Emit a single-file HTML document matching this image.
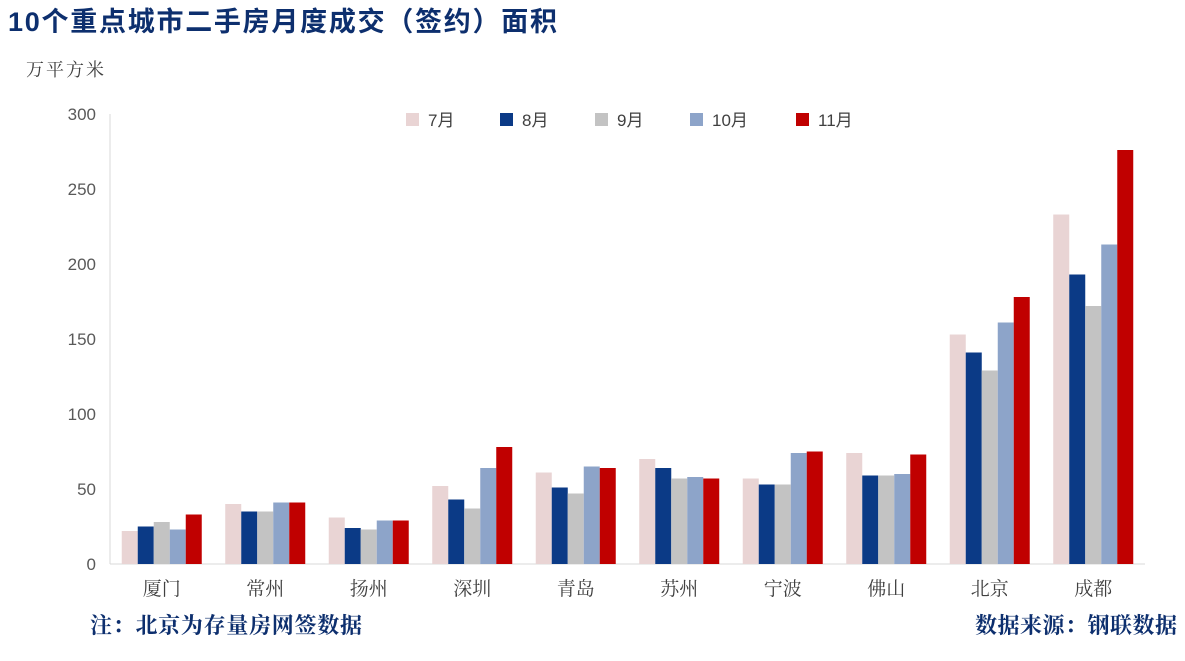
<!DOCTYPE html>
<html><head><meta charset="utf-8"><style>
body{margin:0;background:#fff;width:1185px;height:656px;overflow:hidden;font-family:"Liberation Sans","Noto Sans CJK SC",sans-serif;}
</style></head><body>
<svg width="1185" height="656" id="c" xmlns="http://www.w3.org/2000/svg">
<text x="8" y="31" font-size="27" font-weight="bold" fill="#0d2f6e" textLength="549" lengthAdjust="spacing" font-family="'Liberation Sans','Noto Sans CJK SC',sans-serif">10个重点城市二手房月度成交（签约）面积</text>
<text x="26" y="76" font-size="18" fill="#404040" textLength="78" lengthAdjust="spacing" font-family="'Noto Serif CJK SC',serif">万平方米</text>
<text x="90" y="633" font-size="22" font-weight="bold" fill="#0d2f6e" textLength="272" lengthAdjust="spacing" font-family="'Noto Serif CJK SC',serif">注：北京为存量房网签数据</text>
<text x="975" y="633" font-size="22" font-weight="bold" fill="#0d2f6e" textLength="202" lengthAdjust="spacing" font-family="'Noto Serif CJK SC',serif">数据来源：钢联数据</text>
<g id="g"></g>
</svg>
<script>
const categories=["厦门","常州","扬州","深圳","青岛","苏州","宁波","佛山","北京","成都"];
const seriesNames=["7月","8月","9月","10月","11月"];
const s7=[22,40,31,52,61,70,57,74,153,233];
const s8=[25,35,24,43,51,64,53,59,141,193];
const s9=[28,35,23,37,47,57,53,59,129,172];
const s10=[23,41,29,64,65,58,74,60,161,213];
const s11=[33,41,29,78,64,57,75,73,178,276];
const yTicks=[0,50,100,150,200,250,300];
const colors=["#e9d4d4","#0b3a86","#c3c3c3","#8da4c9","#c00000"];
const series=[s7,s8,s9,s10,s11];
const ns="http://www.w3.org/2000/svg",g=document.getElementById('g');
const x0=110,x1=1145,y0=564,y1=114,yMax=300;
const y=v=>y0-(v/yMax)*(y0-y1);
const bw=(x1-x0)/categories.length;
const cx=i=>x0+bw*(i+0.5);
function mk(t,a){const e=document.createElementNS(ns,t);for(const k in a)e.setAttribute(k,a[k]);g.appendChild(e);return e;}
let ax=mk('line',{x1:x0,x2:x0,y1:y1,y2:y0,stroke:'#d9d9d9'});

let bx=mk('line',{x1:x0,x2:x1,y1:y0,y2:y0,stroke:'#d9d9d9'});

yTicks.forEach(v=>{const t=mk('text',{x:96,y:y(v)+6,'text-anchor':'end','font-size':17,fill:'#595959'});t.textContent=v;
});
categories.forEach((c,i)=>{
 const t=mk('text',{x:cx(i),y:595,'text-anchor':'middle','font-size':19,fill:'#404040','font-family':"'Noto Serif CJK SC',serif"});t.textContent=c;
 
 series.forEach((s,j)=>{const r=mk('rect',{x:cx(i)-40+j*16,y:y(s[i]),width:16,height:y0-y(s[i]),fill:colors[j]});
 });
});
const lx=[406,500,595,690,796];
seriesNames.forEach((n,j)=>{
 const r=mk('rect',{x:lx[j],y:113,width:13,height:13,fill:colors[j]});
 
 const t=mk('text',{x:lx[j]+22,y:126,'font-size':17,fill:'#404040'});t.textContent=n;
 
});
</script>
</body></html>
